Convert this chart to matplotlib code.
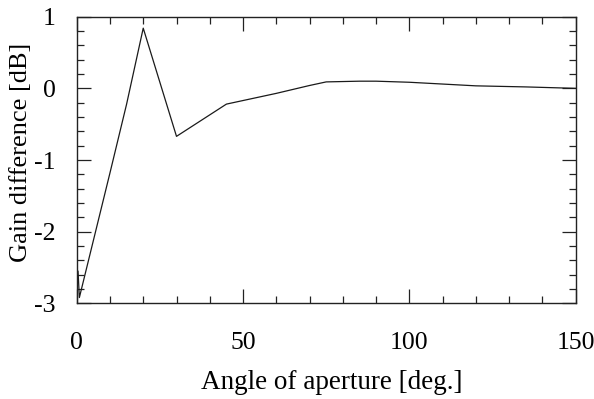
import matplotlib
matplotlib.use("Agg")
import matplotlib.pyplot as plt
from matplotlib.ticker import MultipleLocator

angle = [0, 0.05, 0.4, 0.8, 10, 15, 20, 30, 45, 50, 60, 70, 75, 85, 90, 100, 110, 120, 135, 150]
gain = [-1.78, -2.85, -2.55, -2.92, -1.18, -0.22, 0.84, -0.67, -0.22, -0.17, -0.07, 0.04, 0.09,
        0.10, 0.10, 0.085, 0.06, 0.035, 0.02, 0.0]

x_ticks = [0, 50, 100, 150]
y_ticks = [-3, -2, -1, 0, 1]

plt.rcParams['font.family'] = ['Liberation Serif', 'DejaVu Serif']

fig = plt.figure(figsize=(5.94, 3.99), dpi=100)
ax = fig.add_axes([76.7/594, 1-303.3/399, 499/594, 286.6/399])
ax.plot(angle, gain, color='#1a1a1a', lw=0.9)

ax.set_xlim(0, 150)
ax.set_ylim(-3, 1)
ax.set_xticks(x_ticks)
ax.set_yticks(y_ticks)
ax.set_yticklabels(['-3', '-2', '-1', '0', '1'])
ax.xaxis.set_minor_locator(MultipleLocator(10))
ax.yaxis.set_minor_locator(MultipleLocator(0.2))

ax.tick_params(which='both', direction='in', top=True, right=True, width=0.9, color='#222222')
ax.tick_params(which='major', length=10)
ax.tick_params(which='minor', length=5)
ax.tick_params(axis='x', which='major', pad=21, labelsize=18.5)
ax.tick_params(axis='y', which='major', pad=15, labelsize=18.5)
for s in ax.spines.values():
    s.set_linewidth(1.0)
    s.set_color('#222222')

ax.set_xlabel('Angle of aperture [deg.]', fontsize=19.5, va='baseline')
ax.xaxis.set_label_coords(0.511, -0.299)
ax.set_ylabel('Gain difference [dB]', fontsize=19, va='center')
ax.yaxis.set_label_coords(-0.112, 0.528)

fig.savefig('out.png', dpi=100)
